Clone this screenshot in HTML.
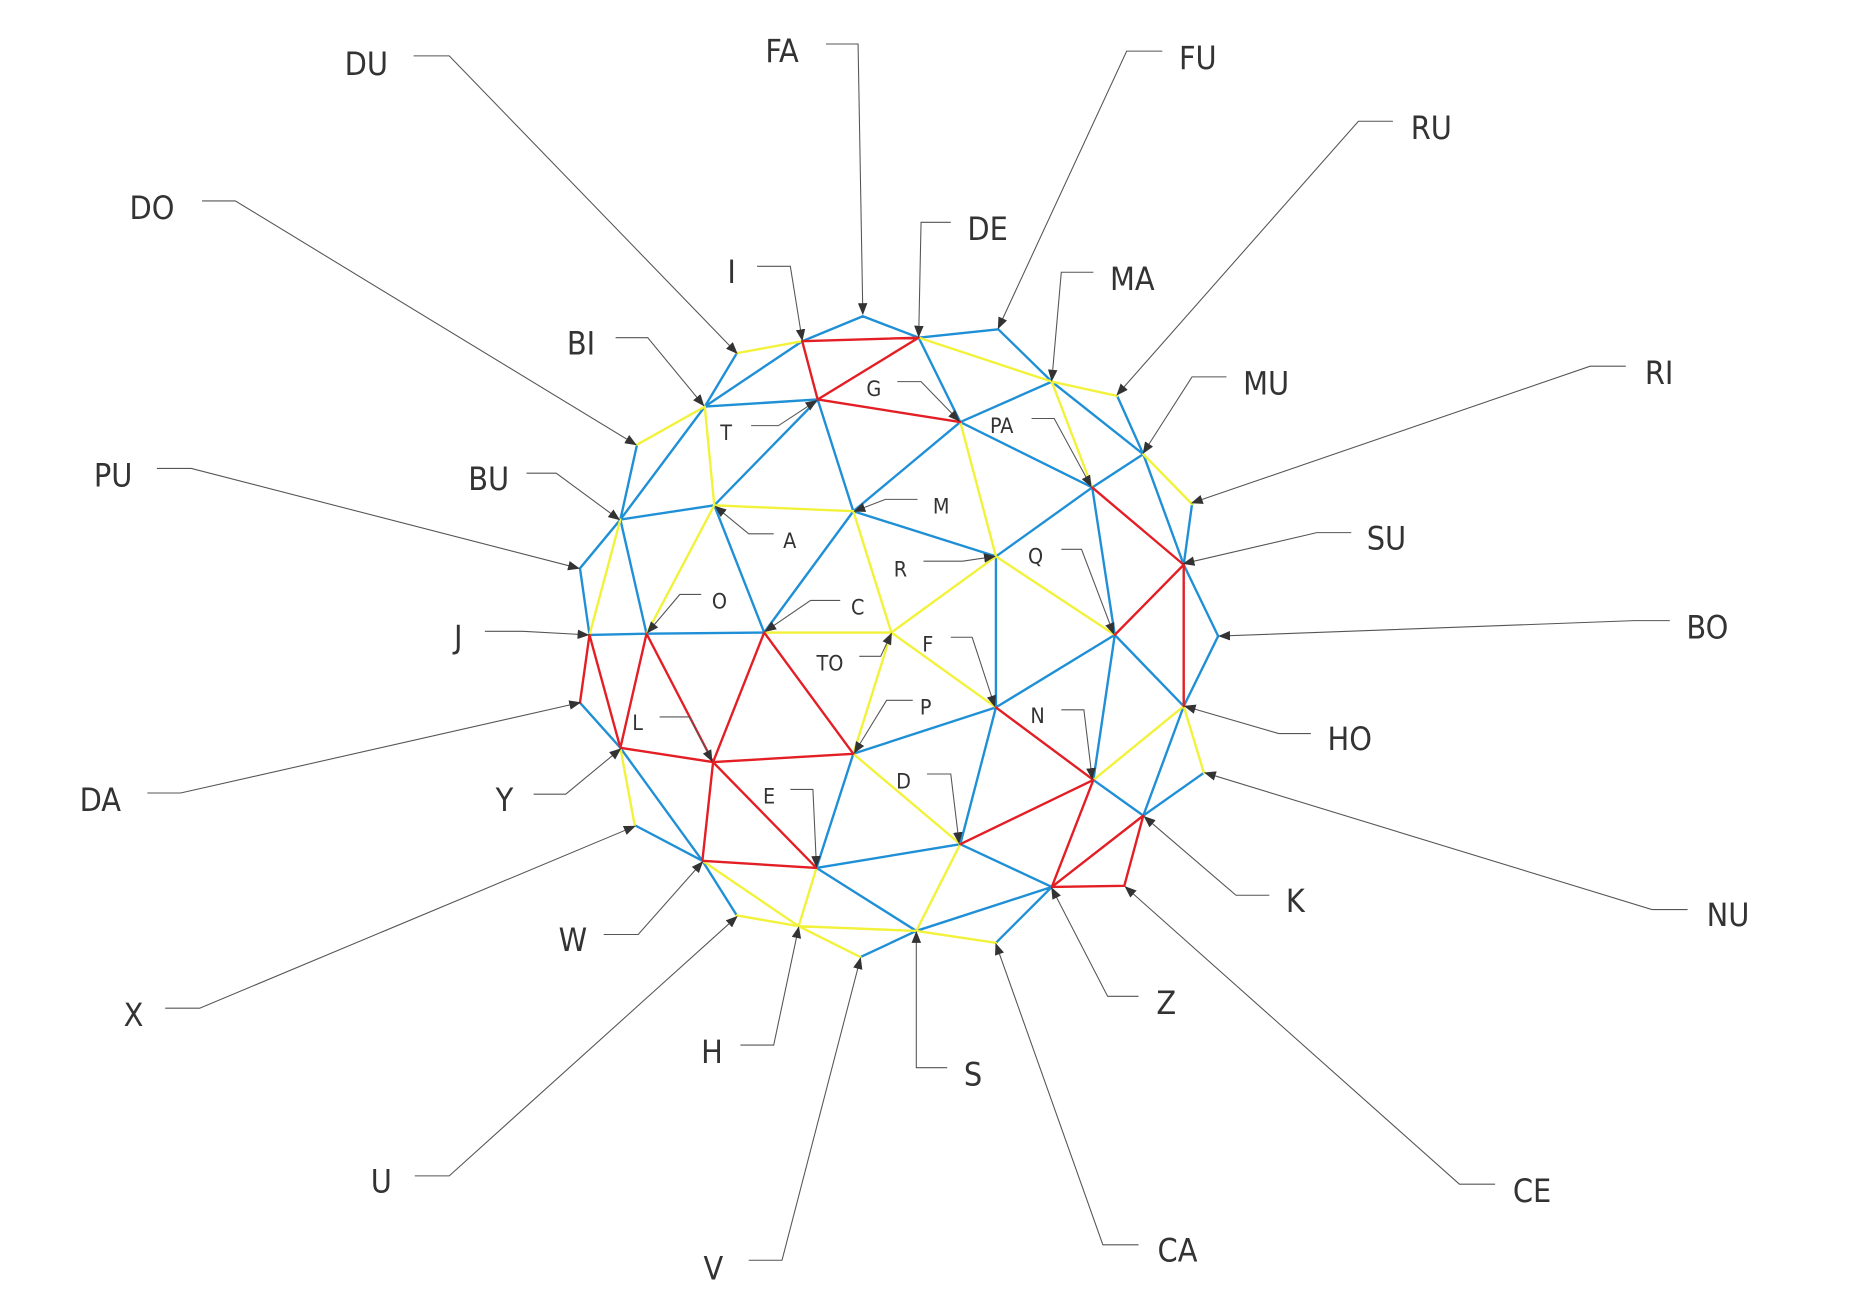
<!DOCTYPE html>
<html><head><meta charset="utf-8"><style>
html,body{margin:0;padding:0;background:#fff;}
svg{display:block;}
text{font-family:"DejaVu Sans Condensed","Liberation Sans",sans-serif;fill:#333;}
.b{font-size:27px;}
.s{font-size:18px;}
.c{fill:none;stroke:#555;stroke-width:0.9;marker-end:url(#ar);}
.bl{stroke:#1f8fd6;stroke-width:2;fill:none;}
.ye{stroke:#f2f23a;stroke-width:2;fill:none;}
.re{stroke:#e31e24;stroke-width:2;fill:none;}
</style></head><body>
<svg width="1854" height="1290" viewBox="0 0 1560 1085" preserveAspectRatio="none">
<defs><marker id="ar" markerWidth="10" markerHeight="8" refX="9" refY="4" orient="auto" markerUnits="userSpaceOnUse"><path d="M0,0 L10,4 L0,8 z" fill="#333"/></marker></defs>
<g stroke-linecap="round">
<path class="bl" d="M726,266L773,284 M726,266L675,287 M620,297L593,342 M536,374L522,437 M522,437L488,478 M488,478L496,534 M488,591L522,629 M534,694L591,724 M591,724L620,770 M724,805L771,783 M838,793L885,746 M962,686L1013,650 M996,594L1025,535 M1025,535L996,475 M996,475L1003,424 M962,382L940,333 M885,321L840,277 M840,277L773,284 M773,284L808,355 M885,321L808,355 M808,355L919,410 M885,321L962,382 M962,382L919,410 M962,382L996,475 M919,410L838,468 M919,410L938,534 M808,355L718,430 M688,336L718,430 M688,336L593,342 M593,342L675,287 M688,336L601,425 M593,342L522,437 M522,437L601,425 M718,430L838,468 M718,430L643,532 M601,425L643,532 M522,437L544,533 M496,534L544,533 M544,533L643,532 M838,468L838,595 M938,534L996,594 M938,534L838,595 M938,534L920,656 M920,656L962,686 M996,594L962,686 M808,710L885,746 M808,710L838,595 M838,595L718,634 M718,634L687,730 M522,629L591,724 M687,730L808,710 M687,730L771,783 M771,783L885,746"/>
<path class="ye" d="M675,287L620,297 M593,342L536,374 M522,629L534,694 M620,770L672,779 M672,779L724,805 M771,783L838,793 M996,594L1013,650 M1003,424L962,382 M940,333L885,321 M773,284L885,321 M885,321L919,410 M808,355L838,468 M593,342L601,425 M601,425L718,430 M718,430L750,532 M601,425L544,533 M522,437L496,534 M643,532L750,532 M750,532L838,468 M838,468L938,534 M750,532L838,595 M750,532L718,634 M718,634L808,710 M808,710L771,783 M920,656L996,594 M687,730L672,779 M591,724L672,779 M672,779L771,783"/>
<path class="re" d="M675,287L773,284 M675,287L688,336 M688,336L773,284 M688,336L808,355 M919,410L996,475 M996,475L938,534 M996,475L996,594 M838,595L920,656 M920,656L885,746 M920,656L808,710 M885,746L946,745 M946,745L962,686 M885,746L962,686 M496,534L488,591 M496,534L522,629 M544,533L522,629 M544,533L600,641 M643,532L600,641 M643,532L718,634 M522,629L600,641 M600,641L718,634 M600,641L591,724 M600,641L687,730 M591,724L687,730"/>
</g>
<g>
<path class="c" d="M348,47H378L620,297"/>
<path class="c" d="M695,37H722L726,264"/>
<path class="c" d="M978,43H948L840,276"/>
<path class="c" d="M1172,102H1143L940,332"/>
<path class="c" d="M800,187H775L773,283"/>
<path class="c" d="M637,224H665L675,286"/>
<path class="c" d="M920,229H893L885,320"/>
<path class="c" d="M1032,317H1003L962,381"/>
<path class="c" d="M1368,308H1338L1003,423"/>
<path class="c" d="M1137,448H1108L996,474"/>
<path class="c" d="M1405,522H1375L1026,535"/>
<path class="c" d="M1103,617H1076L997,594"/>
<path class="c" d="M1420,765H1390L1014,650"/>
<path class="c" d="M1068,753H1040L963,687"/>
<path class="c" d="M1258,996H1228L947,746"/>
<path class="c" d="M958,838H932L885,747"/>
<path class="c" d="M958,1047H928L838,794"/>
<path class="c" d="M797,898H771L771,784"/>
<path class="c" d="M630,1060H658L724,806"/>
<path class="c" d="M623,879H651L672,780"/>
<path class="c" d="M349,989H378L620,771"/>
<path class="c" d="M508,786H537L591,725"/>
<path class="c" d="M139,848H168L534,695"/>
<path class="c" d="M449,668H476L522,630"/>
<path class="c" d="M124,667H152L488,591"/>
<path class="c" d="M408,531H440L495,534"/>
<path class="c" d="M132,394H161L487,478"/>
<path class="c" d="M443,398H468L521,437"/>
<path class="c" d="M170,169H198L535,374"/>
<path class="c" d="M518,284H545L592,341"/>
<path class="c" d="M632,358H655L687,337"/>
<path class="c" d="M755,321H775L807,354"/>
<path class="c" d="M868,352H887L918,409"/>
<path class="c" d="M772,420H745L719,430"/>
<path class="c" d="M651,449H630L602,426"/>
<path class="c" d="M777,472H810L837,468"/>
<path class="c" d="M893,462H910L937,533"/>
<path class="c" d="M590,500H572L545,532"/>
<path class="c" d="M707,505H682L644,531"/>
<path class="c" d="M723,552H741L750,533"/>
<path class="c" d="M800,536H818L837,594"/>
<path class="c" d="M768,589H746L719,633"/>
<path class="c" d="M893,597H912L919,655"/>
<path class="c" d="M555,603H580L599,640"/>
<path class="c" d="M665,664H684L687,729"/>
<path class="c" d="M780,651H800L807,709"/>
</g>
<g class="b">
<text x="290" y="63">DU</text>
<text x="644" y="52">FA</text>
<text x="992" y="58">FU</text>
<text x="1187" y="117">RU</text>
<text x="814" y="202">DE</text>
<text x="612" y="238">I</text>
<text x="934" y="244">MA</text>
<text x="1046" y="332">MU</text>
<text x="1384" y="323">RI</text>
<text x="1150" y="462">SU</text>
<text x="1419" y="537">BO</text>
<text x="1117" y="631">HO</text>
<text x="1436" y="779">NU</text>
<text x="1082" y="767">K</text>
<text x="1273" y="1011">CE</text>
<text x="973" y="853">Z</text>
<text x="974" y="1061">CA</text>
<text x="811" y="913">S</text>
<text x="592" y="1076">V</text>
<text x="590" y="894">H</text>
<text x="312" y="1003">U</text>
<text x="470" y="800">W</text>
<text x="104" y="863">X</text>
<text x="417" y="682">Y</text>
<text x="67" y="682">DA</text>
<text x="382" y="545">J</text>
<text x="79" y="409">PU</text>
<text x="394" y="412">BU</text>
<text x="109" y="184">DO</text>
<text x="477" y="298">BI</text>
</g>
<g class="s">
<text x="606" y="370">T</text>
<text x="729" y="333">G</text>
<text x="833" y="364">PA</text>
<text x="785" y="432">M</text>
<text x="659" y="461">A</text>
<text x="752" y="485">R</text>
<text x="865" y="474">Q</text>
<text x="599" y="512">O</text>
<text x="716" y="517">C</text>
<text x="687" y="564">TO</text>
<text x="776" y="548">F</text>
<text x="774" y="601">P</text>
<text x="867" y="608">N</text>
<text x="532" y="614">L</text>
<text x="642" y="676">E</text>
<text x="754" y="663">D</text>
</g>
</svg>
</body></html>
